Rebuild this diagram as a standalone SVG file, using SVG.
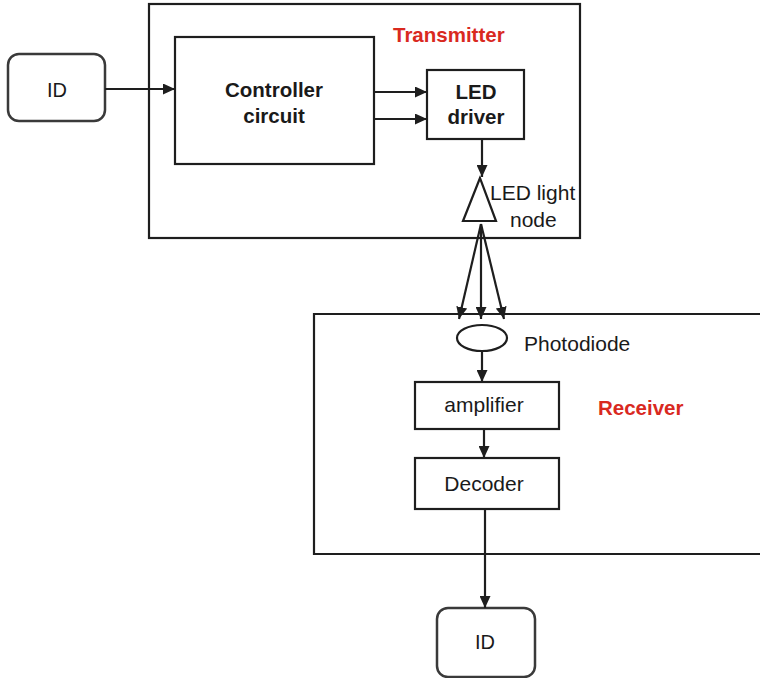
<svg xmlns="http://www.w3.org/2000/svg" width="760" height="678" viewBox="0 0 760 678">
  <style>
    .box { fill: #fff; stroke: #1e1e1e; stroke-width: 2.2; }
    .frame { fill: none; stroke: #1e1e1e; stroke-width: 2.2; }
    .term { fill: #fff; stroke: #3a3a3a; stroke-width: 2.5; }
    .wire { fill: none; stroke: #1e1e1e; stroke-width: 2.2; }
    .txt { font-family: "Liberation Sans", Arial, sans-serif; font-size: 21px; fill: #1a1a1a; text-anchor: middle; }
    .bold { font-weight: bold; font-size: 20.5px; }
    .red { fill: #d9291f; font-weight: bold; font-size: 20.5px; text-anchor: start; }
    .left { text-anchor: start; }
  </style>
  <defs>
    <marker id="arrow" viewBox="0 0 12 11" refX="12" refY="5.5" markerWidth="12" markerHeight="11" markerUnits="userSpaceOnUse" orient="auto">
      <path d="M0,0 L12,5.5 L0,11 z" fill="#1e1e1e"/>
    </marker>
  </defs>

  <rect width="760" height="678" fill="#fff"/>

  <!-- transmitter enclosure -->
  <g id="transmitter">
    <rect class="frame" x="149" y="4" width="431" height="234"/>
    <text class="txt red" x="393" y="42">Transmitter</text>
  </g>

  <!-- receiver enclosure (runs off the right edge) -->
  <g id="receiver">
    <path class="frame" d="M765,314 H314 V554 H765"/>
    <text class="txt red" x="598" y="415">Receiver</text>
  </g>

  <g id="id-in">
    <rect class="term" x="8" y="54" width="97" height="67" rx="11"/>
    <text class="txt" x="57" y="97" style="font-size:20px">ID</text>
  </g>

  <g id="controller">
    <rect class="box" x="175" y="37" width="199" height="127"/>
    <text class="txt bold" x="274" y="97">Controller</text>
    <text class="txt bold" x="274" y="123">circuit</text>
  </g>

  <g id="led-driver">
    <rect class="box" x="427" y="70" width="97" height="69"/>
    <text class="txt bold" x="476" y="99">LED</text>
    <text class="txt bold" x="476" y="124">driver</text>
  </g>

  <g id="led-node">
    <polygon class="box" points="480,178 463,221 496,221"/>
    <text class="txt left" x="490" y="200">LED light</text>
    <text class="txt left" x="510" y="227">node</text>
  </g>

  <g id="photodiode">
    <ellipse class="box" cx="482" cy="338" rx="25" ry="13"/>
    <text class="txt left" x="524" y="351">Photodiode</text>
  </g>

  <g id="amplifier">
    <rect class="box" x="415" y="382" width="144" height="47"/>
    <text class="txt" x="484" y="412">amplifier</text>
  </g>

  <g id="decoder">
    <rect class="box" x="415" y="458" width="144" height="51"/>
    <text class="txt" x="484" y="491">Decoder</text>
  </g>

  <g id="id-out">
    <rect class="term" x="437" y="608" width="98" height="69" rx="11"/>
    <text class="txt" x="485" y="649" style="font-size:20px">ID</text>
  </g>

  <g id="connectors">
    <line class="wire" x1="105" y1="89" x2="175" y2="89" marker-end="url(#arrow)"/>
    <line class="wire" x1="374" y1="92" x2="427" y2="92" marker-end="url(#arrow)"/>
    <line class="wire" x1="374" y1="119" x2="427" y2="119" marker-end="url(#arrow)"/>
    <line class="wire" x1="482" y1="139" x2="482" y2="177" marker-end="url(#arrow)"/>
    <line class="wire" x1="481" y1="224" x2="459" y2="319" marker-end="url(#arrow)"/>
    <line class="wire" x1="481" y1="224" x2="481" y2="319" marker-end="url(#arrow)"/>
    <line class="wire" x1="481" y1="224" x2="504" y2="319" marker-end="url(#arrow)"/>
    <line class="wire" x1="482" y1="351" x2="482" y2="382" marker-end="url(#arrow)"/>
    <line class="wire" x1="484" y1="429" x2="484" y2="458" marker-end="url(#arrow)"/>
    <line class="wire" x1="485" y1="509" x2="485" y2="608" marker-end="url(#arrow)"/>
  </g>
</svg>
